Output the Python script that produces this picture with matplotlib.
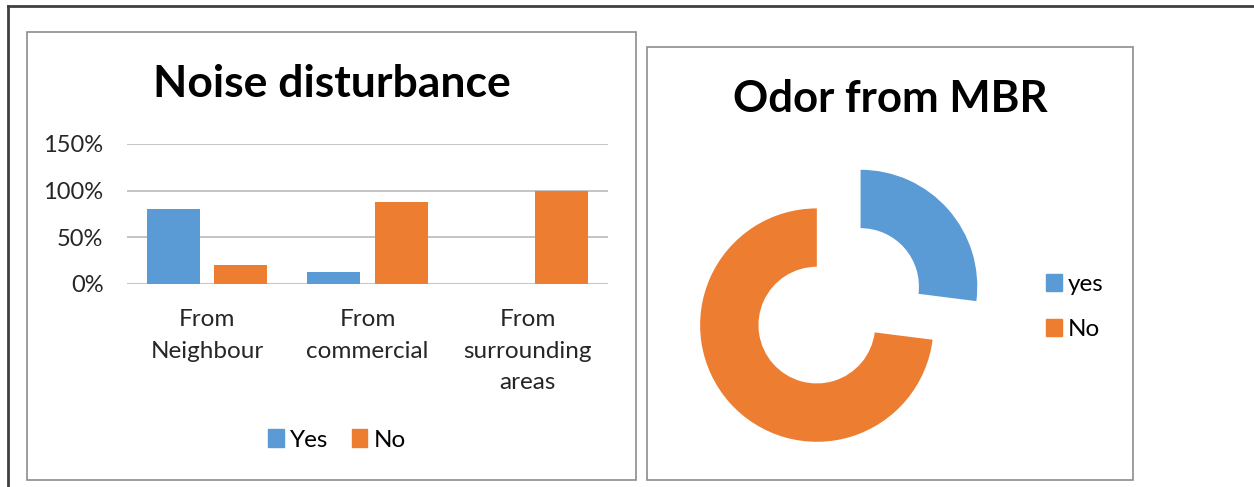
import numpy as np
import matplotlib
matplotlib.use("Agg")
import matplotlib.pyplot as plt
from matplotlib.patches import Rectangle, Patch
from matplotlib.lines import Line2D
from matplotlib.ticker import PercentFormatter

plt.rcParams['font.family'] = ['Lato', 'DejaVu Sans']

# data
noise_cats = ["From\nNeighbour", "From\ncommercial", "From\nsurrounding\nareas"]
noise_yes = [0.80, 0.125, 0.0]
noise_no = [0.20, 0.875, 1.0]
odor_labels = ["yes", "No"]
odor_vals = [27, 73]

blue = '#5B9BD5'
orange = '#ED7D31'
W, H = 1254, 487

fig = plt.figure(figsize=(W / 100, H / 100), dpi=100)

def box(x0, y0, x1, y1):
    # pixel box (top-left origin) -> figure fraction rect
    return [x0 / W, 1 - y1 / H, (x1 - x0) / W, (y1 - y0) / H]

# outer frame lines
fig.add_artist(Line2D([8 / W, 1], [1 - 6 / H, 1 - 6 / H], color='#404040', lw=2))
fig.add_artist(Line2D([8 / W, 8 / W], [0, 1 - 6 / H], color='#404040', lw=2))

# panel boxes
for b in (box(27, 32, 636, 480), box(647, 47, 1133, 480)):
    fig.add_artist(Rectangle((b[0], b[1]), b[2], b[3], transform=fig.transFigure,
                             fill=False, edgecolor='#8c8c8c', lw=1.2))

# ---- bar chart ----
ax = fig.add_axes(box(127, 144, 608, 284))
x = np.arange(len(noise_cats))
ax.bar(x - 0.21, noise_yes, 0.33, color=blue, zorder=3)
ax.bar(x + 0.21, noise_no, 0.33, color=orange, zorder=3)
ax.set_xlim(-0.5, 2.5)
ax.set_ylim(0, 1.5)
ax.set_yticks([0, 0.5, 1.0, 1.5])
ax.yaxis.set_major_formatter(PercentFormatter(1.0, decimals=0))
ax.yaxis.grid(True, color='#bfbfbf', lw=1.3, zorder=0)
ax.set_xticks(x)
ax.set_xticklabels(noise_cats, fontsize=17.5, linespacing=1.62, color='#262626')
ax.tick_params(axis='x', length=0, pad=18)
ax.tick_params(axis='y', length=0, pad=17, labelsize=17, labelcolor='#262626')
for s in ax.spines.values():
    s.set_visible(False)

fig.text(331.5 / W, 1 - 84 / H, "Noise disturbance", fontsize=32, fontweight='bold',
         ha='center', va='center')

fig.legend(handles=[Patch(color=blue, label='Yes'), Patch(color=orange, label='No')],
           loc='center', bbox_to_anchor=(337 / W, 1 - 440 / H), ncol=2, frameon=False,
           fontsize=17.5, handlelength=0.65, handleheight=0.7, handletextpad=0.25,
           columnspacing=0.95)

# ---- doughnut ----
cx, cy, half = 838.7, 305.8, 150
pax = fig.add_axes(box(cx - half, cy - half, cx + half, cy + half))
R = 116.7
lim = half / R
pax.pie(odor_vals, colors=[blue, orange], startangle=90, counterclock=False,
        explode=[0.25, 0.25], radius=1, wedgeprops=dict(width=0.5, edgecolor='none'))
pax.set_xlim(-lim, lim)
pax.set_ylim(-lim, lim)
pax.set_aspect('equal')
pax.axis('off')

fig.text(890 / W, 1 - 99 / H, "Odor from MBR", fontsize=31.5, fontweight='bold',
         ha='center', va='center')

fig.legend(handles=[Patch(color=blue, label='yes'), Patch(color=orange, label='No')],
           loc='upper left', bbox_to_anchor=(1024 / W, 1 - 252 / H), frameon=False,
           fontsize=17.5, handlelength=0.65, handleheight=0.7, handletextpad=0.25,
           labelspacing=1.0)

fig.savefig('out.png', dpi=100)
